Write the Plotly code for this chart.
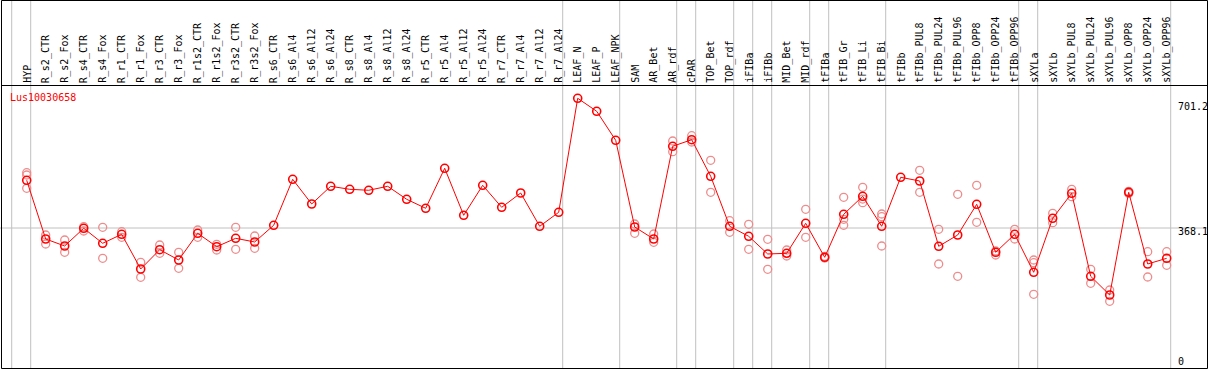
import plotly.graph_objects as go

categories = ["HYP", "R_s2_CTR", "R_s2_Fox", "R_s4_CTR", "R_s4_Fox", "R_r1_CTR", "R_r1_Fox",
              "R_r3_CTR", "R_r3_Fox", "R_r1s2_CTR", "R_r1s2_Fox", "R_r3s2_CTR", "R_r3s2_Fox",
              "R_s6_CTR", "R_s6_Al4", "R_s6_Al12", "R_s6_Al24", "R_s8_CTR", "R_s8_Al4",
              "R_s8_Al12", "R_s8_Al24", "R_r5_CTR", "R_r5_Al4", "R_r5_Al12", "R_r5_Al24",
              "R_r7_CTR", "R_r7_Al4", "R_r7_Al12", "R_r7_Al24", "LEAF_N", "LEAF_P", "LEAF_NPK",
              "SAM", "AR_Bet", "AR_rdf", "cPAR", "TOP_Bet", "TOP_rdf", "iFIBa", "iFIBb",
              "MID_Bet", "MID_rdf", "tFIBa", "tFIB_Gr", "tFIB_Li", "tFIB_Bi", "tFIBb",
              "tFIBb_PUL8", "tFIBb_PUL24", "tFIBb_PUL96", "tFIBb_OPP8", "tFIBb_OPP24",
              "tFIBb_OPP96", "sXYLa", "sXYLb", "sXYLb_PUL8", "sXYLb_PUL24", "sXYLb_PUL96",
              "sXYLb_OPP8", "sXYLb_OPP24", "sXYLb_OPP96"]

means = [503.2, 337.0, 317.1, 367.3, 324.8, 350.3, 252.0, 306.7, 277.5, 353.1, 315.2, 338.9,
         328.5, 375.8, 506.0, 436.1, 486.2, 477.7, 474.9, 486.2, 449.4, 423.9, 537.2, 404.1,
         489.0, 426.7, 467.2, 372.9, 412.6, 735.4, 698.6, 616.4, 370.9, 337.0, 599.5, 618.1,
         514.5, 372.9, 344.6, 294.5, 296.5, 381.4, 285.1, 406.9, 457.9, 372.9, 511.7, 501.2,
         316.3, 348.3, 435.2, 299.3, 350.3, 242.7, 395.6, 466.4, 231.3, 178.4, 469.2, 266.2,
         282.3]

replicates = [
    [524.7, 518.2, 480.5], [348.3, 322.8], [334.1, 299.3], [371.8, 359.6], [370.1, 282.3],
    [357.6, 341.8], [271.0, 228.5], [320.0, 296.5], [299.3, 254.0], [362.4, 341.8],
    [322.0, 305.8], [370.1, 307.8], [345.5, 310.6],
    [], [], [], [], [], [], [], [], [], [], [], [], [], [], [], [],
    [], [], [],
    [379.4, 353.1], [351.1, 327.6], [614.5, 584.2], [629.5, 611.6], [559.8, 469.2],
    [388.8, 355.9], [378.6, 307.8], [336.1, 251.2], [305.8, 288.8], [421.1, 341.8],
    [288.0, 283.0], [455.0, 392.7, 375.8], [483.4, 450.0, 439.7], [407.8, 400.1, 317.1],
    [], [531.5, 469.2], [364.4, 266.2], [463.5, 231.3], [489.0, 384.3], [303.0, 291.7],
    [364.4, 337.0], [277.5, 269.9, 180.4], [409.7, 383.1], [477.7, 456.7], [251.2, 211.5],
    [192.5, 160.6], [472.0, 466.0], [301.0, 229.4], [301.0, 262.5],
]

group_ends = [-1, 0, 28, 31, 34, 35, 37, 38, 39, 41, 42, 45, 52, 53, 60]
ref_ticks = [0, 368.1, 701.2]
ref_labels = ["0", "368.1", "701.2"]
gene = "Lus10030658"

W, H = 1209, 370
FONT = "DejaVu Sans Mono"
idx = list(range(len(categories)))

rx, ry = [], []
for i, reps in enumerate(replicates):
    for v in reps:
        rx.append(i)
        ry.append(v)

fig = go.Figure()
fig.add_trace(go.Scatter(x=rx, y=ry, mode="markers", hoverinfo="skip",
                         marker=dict(symbol="circle-open", size=8, color="rgb(238,140,140)",
                                     line=dict(width=1.3, color="rgb(238,140,140)"))))
fig.add_trace(go.Scatter(x=idx, y=means, mode="lines+markers",
                         line=dict(color="red", width=1),
                         marker=dict(symbol="circle-open", size=8, color="red",
                                     line=dict(width=1.6, color="red"))))

shapes = []
for g in group_ends:
    shapes.append(dict(type="line", xref="x", yref="paper", x0=g + 4 / 19, x1=g + 4 / 19,
                       y0=(H - 368) / H, y1=1, line=dict(color="rgb(192,192,192)", width=1),
                       layer="below"))
shapes.append(dict(type="line", xref="paper", yref="y", x0=0, x1=1208 / W, y0=ref_ticks[1],
                   y1=ref_ticks[1], line=dict(color="rgb(192,192,192)", width=1), layer="below"))
# frame and header separator
shapes.append(dict(type="rect", xref="paper", yref="paper", x0=1.5 / W, x1=1207.5 / W,
                   y0=(H - 368.5) / H, y1=(H - 0.5) / H, line=dict(color="black", width=1)))
shapes.append(dict(type="line", xref="paper", yref="paper", x0=1.5 / W, x1=1207.5 / W,
                   y0=(H - 85.5) / H, y1=(H - 85.5) / H, line=dict(color="black", width=1)))

annotations = []
for i, c in enumerate(categories):
    annotations.append(dict(x=i, y=(H - 84) / H, xref="x", yref="paper", text=c,
                            textangle=-90, xanchor="center", yanchor="bottom", showarrow=False,
                            font=dict(family=FONT, size=10, color="black"), borderpad=0))
annotations.append(dict(x=9 / W, y=(H - 97) / H, xref="paper", yref="paper", text=gene,
                        xanchor="left", yanchor="middle", showarrow=False,
                        font=dict(family=FONT, size=10, color="red"), borderpad=0))
for v, t in zip(ref_ticks, ref_labels):
    annotations.append(dict(x=1177 / W, y=v, xref="paper", yref="y", text=t,
                            xanchor="left", yanchor="top", showarrow=False,
                            yshift=3 if v < 700 else 10,
                            font=dict(family=FONT, size=10, color="black"), borderpad=0))

x_px0 = 26.7
step = 19.0
k = 0.35316
fig.update_layout(
    width=W, height=H, margin=dict(l=0, r=0, t=0, b=0),
    paper_bgcolor="white", plot_bgcolor="white", showlegend=False,
    xaxis=dict(range=[-x_px0 / step, (W - x_px0) / step], visible=False, fixedrange=True),
    yaxis=dict(range=[(358 - H) / k, 358 / k], visible=False, fixedrange=True),
    shapes=shapes, annotations=annotations,
)
fig.write_html("out.html", config={"displayModeBar": False},
               post_script="document.body.style.margin='0';document.body.style.overflow='hidden';")
